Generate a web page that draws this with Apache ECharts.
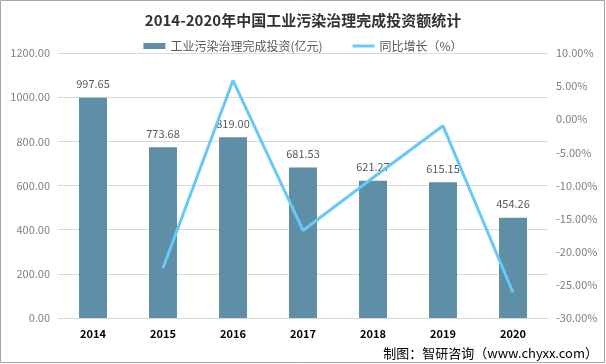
<!DOCTYPE html>
<html><head><meta charset="utf-8">
<script src="https://cdn.jsdelivr.net/npm/echarts@6/dist/echarts.min.js"></script>
<style>html,body{margin:0;padding:0;background:#fff}#c{width:606px;height:364px}</style>
</head><body><div id="c"></div>
<script>
const categories = ['2014','2015','2016','2017','2018','2019','2020'];
const investment = [997.65, 773.68, 819.00, 681.53, 621.27, 615.15, 454.26];
const growth = [null, -22.45, 5.86, -16.79, -8.84, -0.99, -26.15];
const leftTicks = {min: 0, max: 1200, interval: 200};
const rightTicks = {min: -30, max: 10, interval: 5};

const chart = echarts.init(document.getElementById('c'));
const font = '"Microsoft YaHei","Noto Sans CJK SC",sans-serif';
chart.setOption({
  animation: false,
  textStyle: {fontFamily: font},
  title: {text: '2014-2020年中国工业污染治理完成投资额统计', left: 'center', top: 8,
    textStyle: {fontSize: 15, fontWeight: 'bold', color: '#333', fontFamily: font}},
  legend: {top: 35, itemGap: 30, itemWidth: 22, itemHeight: 6,
    textStyle: {fontSize: 12, color: '#595959'},
    data: [{name: '工业污染治理完成投资(亿元)', icon: 'rect'},
           {name: '同比增长（%）', icon: 'path://M0,0 L30,0 L30,4 L0,4 Z'}]},
  grid: {left: 58, right: 58, top: 53, bottom: 46},
  xAxis: {type: 'category', data: categories,
    axisLine: {lineStyle: {color: '#d9d9d9'}}, axisTick: {show: false},
    axisLabel: {color: '#000', fontWeight: 'bold', fontSize: 11, margin: 10}},
  yAxis: [
    {type: 'value', min: leftTicks.min, max: leftTicks.max, interval: leftTicks.interval,
      axisLine: {show: false}, axisTick: {show: false},
      splitLine: {lineStyle: {color: '#d9d9d9'}},
      axisLabel: {color: '#808080', fontSize: 11, formatter: v => v.toFixed(2)}},
    {type: 'value', min: rightTicks.min, max: rightTicks.max, interval: rightTicks.interval,
      axisLine: {show: false}, axisTick: {show: false}, splitLine: {show: false},
      axisLabel: {color: '#808080', fontSize: 11, formatter: v => v.toFixed(2) + '%'}}
  ],
  series: [
    {name: '工业污染治理完成投资(亿元)', type: 'bar', data: investment, barWidth: '40%',
      itemStyle: {color: '#5e8fa7'},
      label: {show: true, position: 'top', color: '#595959', fontSize: 11, distance: 8,
        formatter: p => p.value.toFixed(2)}},
    {name: '同比增长（%）', type: 'line', yAxisIndex: 1, data: growth, showSymbol: false,
      symbol: 'none', lineStyle: {color: '#67c9f5', width: 3}, itemStyle: {color: '#67c9f5'}}
  ],
  graphic: [
    {type: 'rect', shape: {x: 0.5, y: 0.5, width: 604, height: 362},
      style: {fill: 'none', stroke: '#a6a6a6', lineWidth: 1}},
    {type: 'text', right: 8, bottom: 4, style: {
      rich: {a: {fontSize: 13, color: '#000', fontFamily: font}, b: {fontSize: 13, color: '#1f3a7a', fontFamily: font}},
      text: '{a|制图：智研咨询（}{b|www.chyxx.com}{a|）}'}}
  ]
});
</script></body></html>
